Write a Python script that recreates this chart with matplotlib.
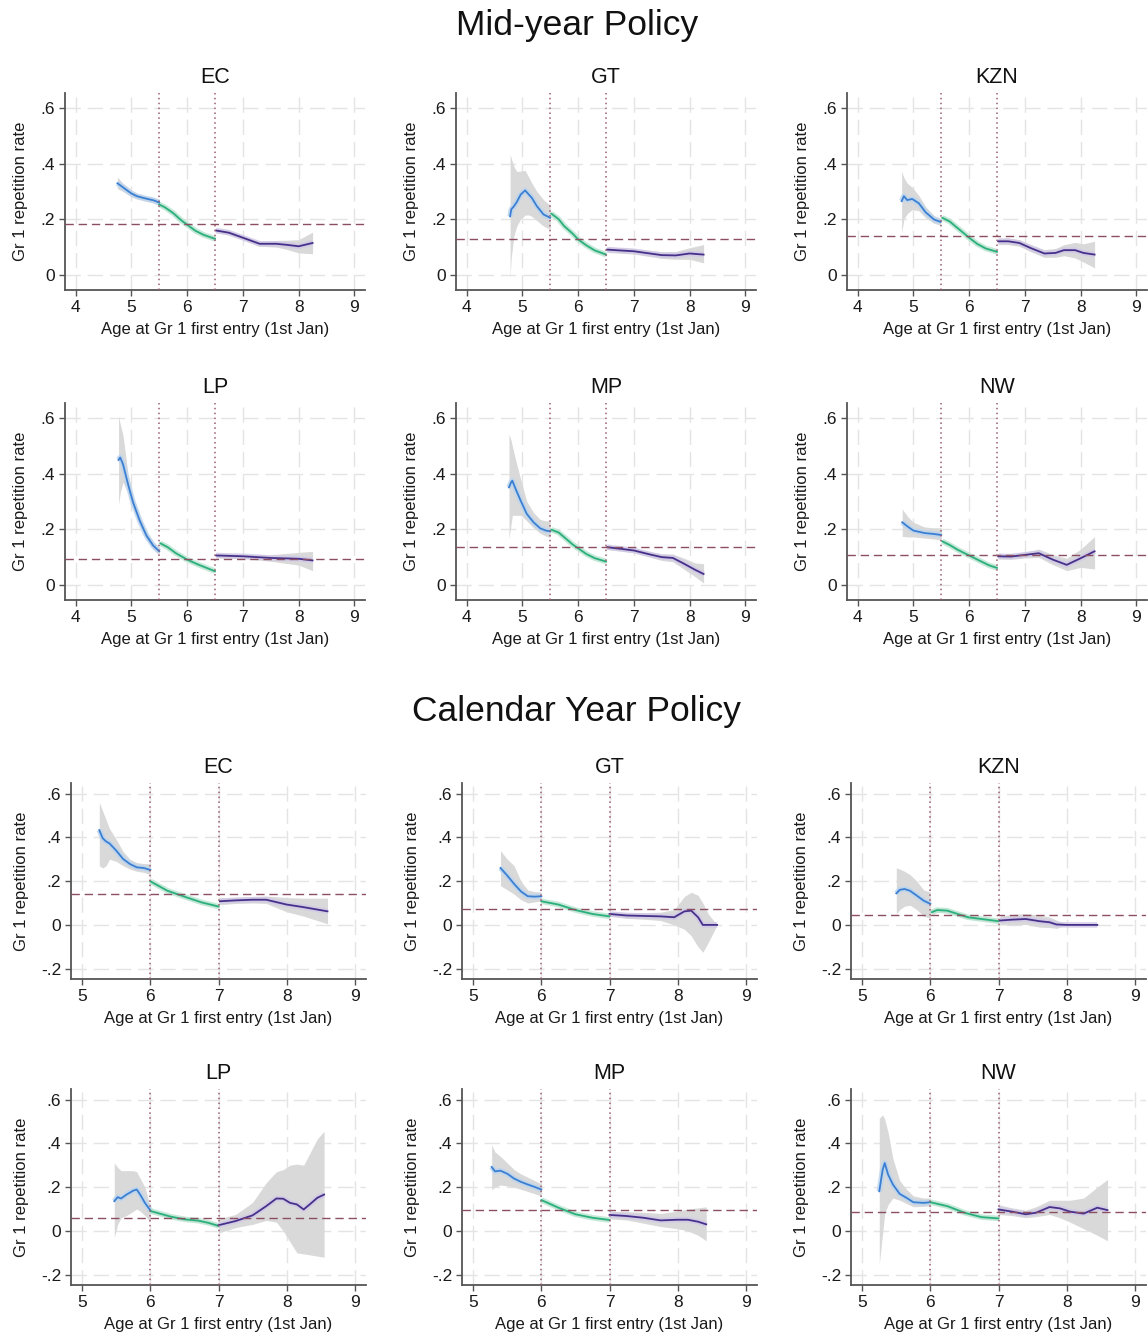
import matplotlib
matplotlib.use("Agg")
import matplotlib.pyplot as plt

plt.rcParams['font.family'] = ['Liberation Sans', 'DejaVu Sans']

PROVINCES = ["EC", "GT", "KZN", "LP", "MP", "NW"]
MY_CUTOFFS = [5.5, 6.5]
CY_CUTOFFS = [6.0, 7.0]
MY_XTICKS = [4, 5, 6, 7, 8, 9]
CY_XTICKS = [5, 6, 7, 8, 9]
MY_YTICKS = [0, 0.2, 0.4, 0.6]
MY_YLABELS = ["0", ".2", ".4", ".6"]
CY_YTICKS = [-0.2, 0, 0.2, 0.4, 0.6]
CY_YLABELS = ["-.2", "0", ".2", ".4", ".6"]
MY_MEAN = [0.183, 0.129, 0.139, 0.093, 0.137, 0.105]
CY_MEAN = [0.140, 0.073, 0.047, 0.057, 0.095, 0.088]

# ---------------- Mid-year policy ----------------
MY_EC_1 = dict(x=[4.75, 4.85, 5.0, 5.1, 5.25, 5.4, 5.5],
               y=[0.330, 0.315, 0.293, 0.283, 0.275, 0.268, 0.260],
               lo=[0.310, 0.300, 0.281, 0.273, 0.265, 0.258, 0.248],
               hi=[0.352, 0.330, 0.305, 0.293, 0.285, 0.278, 0.272])
MY_EC_2 = dict(x=[5.5, 5.6, 5.75, 5.9, 6.0, 6.15, 6.3, 6.5],
               y=[0.253, 0.243, 0.222, 0.195, 0.180, 0.158, 0.143, 0.129],
               lo=[0.246, 0.237, 0.216, 0.190, 0.175, 0.153, 0.137, 0.122],
               hi=[0.260, 0.249, 0.228, 0.200, 0.185, 0.163, 0.149, 0.136])
MY_EC_3 = dict(x=[6.52, 6.75, 7.0, 7.15, 7.3, 7.6, 7.8, 8.0, 8.25],
               y=[0.159, 0.151, 0.133, 0.122, 0.111, 0.111, 0.107, 0.102, 0.114],
               lo=[0.151, 0.143, 0.126, 0.114, 0.102, 0.099, 0.090, 0.078, 0.075],
               hi=[0.167, 0.159, 0.141, 0.130, 0.120, 0.123, 0.124, 0.126, 0.153])

MY_GT_1 = dict(x=[4.78, 4.8, 4.85, 4.9, 4.97, 5.05, 5.12, 5.17, 5.26, 5.38, 5.5],
               y=[0.210, 0.235, 0.247, 0.262, 0.289, 0.304, 0.288, 0.277, 0.247, 0.217, 0.205],
               lo=[-0.012, 0.060, 0.140, 0.175, 0.200, 0.215, 0.215, 0.210, 0.195, 0.175, 0.163],
               hi=[0.434, 0.420, 0.390, 0.372, 0.374, 0.376, 0.350, 0.330, 0.300, 0.270, 0.250])
MY_GT_2 = dict(x=[5.52, 5.65, 5.75, 5.9, 6.0, 6.15, 6.3, 6.5],
               y=[0.220, 0.200, 0.175, 0.148, 0.127, 0.105, 0.087, 0.072],
               lo=[0.213, 0.194, 0.169, 0.143, 0.122, 0.100, 0.082, 0.066],
               hi=[0.227, 0.206, 0.181, 0.153, 0.132, 0.110, 0.092, 0.078])
MY_GT_3 = dict(x=[6.52, 6.75, 7.0, 7.25, 7.5, 7.75, 8.0, 8.25],
               y=[0.090, 0.087, 0.084, 0.077, 0.070, 0.069, 0.076, 0.072],
               lo=[0.080, 0.077, 0.074, 0.066, 0.058, 0.055, 0.055, 0.042],
               hi=[0.100, 0.097, 0.094, 0.088, 0.082, 0.083, 0.097, 0.108])

MY_KZN_1 = dict(x=[4.79, 4.83, 4.89, 4.98, 5.1, 5.22, 5.37, 5.49],
                y=[0.265, 0.283, 0.269, 0.273, 0.257, 0.225, 0.199, 0.190],
                lo=[0.150, 0.200, 0.220, 0.235, 0.230, 0.205, 0.185, 0.178],
                hi=[0.373, 0.350, 0.330, 0.315, 0.285, 0.245, 0.213, 0.203])
MY_KZN_2 = dict(x=[5.52, 5.65, 5.75, 5.9, 6.0, 6.15, 6.3, 6.5],
                y=[0.205, 0.192, 0.175, 0.150, 0.133, 0.110, 0.094, 0.082],
                lo=[0.198, 0.186, 0.169, 0.145, 0.128, 0.105, 0.089, 0.076],
                hi=[0.212, 0.198, 0.181, 0.155, 0.138, 0.115, 0.099, 0.088])
MY_KZN_3 = dict(x=[6.52, 6.7, 6.9, 7.1, 7.35, 7.55, 7.7, 7.9, 8.05, 8.25],
                y=[0.120, 0.120, 0.114, 0.096, 0.076, 0.078, 0.088, 0.088, 0.078, 0.072],
                lo=[0.108, 0.108, 0.102, 0.083, 0.062, 0.062, 0.068, 0.060, 0.045, 0.024],
                hi=[0.132, 0.132, 0.126, 0.109, 0.090, 0.094, 0.108, 0.116, 0.111, 0.120])

MY_LP_1 = dict(x=[4.77, 4.8, 4.85, 4.94, 5.03, 5.15, 5.27, 5.39, 5.5],
               y=[0.450, 0.459, 0.435, 0.363, 0.297, 0.231, 0.177, 0.141, 0.120],
               lo=[0.290, 0.330, 0.370, 0.330, 0.275, 0.213, 0.162, 0.127, 0.106],
               hi=[0.610, 0.580, 0.540, 0.400, 0.320, 0.250, 0.193, 0.156, 0.135])
MY_LP_2 = dict(x=[5.52, 5.65, 5.8, 6.0, 6.2, 6.35, 6.5],
               y=[0.149, 0.135, 0.113, 0.090, 0.072, 0.060, 0.048],
               lo=[0.143, 0.129, 0.108, 0.085, 0.067, 0.055, 0.043],
               hi=[0.155, 0.141, 0.118, 0.095, 0.077, 0.065, 0.053])
MY_LP_3 = dict(x=[6.52, 7.0, 7.5, 8.0, 8.25],
               y=[0.105, 0.102, 0.096, 0.093, 0.087],
               lo=[0.097, 0.094, 0.084, 0.070, 0.050],
               hi=[0.113, 0.110, 0.108, 0.116, 0.120])

MY_MP_1 = dict(x=[4.76, 4.8, 4.82, 4.88, 4.97, 5.08, 5.2, 5.32, 5.42, 5.5],
               y=[0.351, 0.370, 0.375, 0.345, 0.303, 0.255, 0.225, 0.203, 0.195, 0.192],
               lo=[0.165, 0.220, 0.250, 0.250, 0.250, 0.230, 0.205, 0.185, 0.175, 0.170],
               hi=[0.543, 0.520, 0.500, 0.450, 0.380, 0.300, 0.260, 0.235, 0.230, 0.230])
MY_MP_2 = dict(x=[5.52, 5.65, 5.75, 5.9, 6.0, 6.15, 6.3, 6.5],
               y=[0.198, 0.188, 0.171, 0.145, 0.131, 0.110, 0.095, 0.083],
               lo=[0.191, 0.182, 0.165, 0.140, 0.126, 0.105, 0.090, 0.077],
               hi=[0.205, 0.194, 0.177, 0.150, 0.136, 0.115, 0.100, 0.089])
MY_MP_3 = dict(x=[6.52, 7.0, 7.3, 7.5, 7.7, 7.9, 8.1, 8.25],
               y=[0.135, 0.123, 0.108, 0.099, 0.096, 0.075, 0.053, 0.038],
               lo=[0.127, 0.115, 0.098, 0.087, 0.082, 0.055, 0.028, 0.005],
               hi=[0.143, 0.131, 0.118, 0.111, 0.110, 0.095, 0.078, 0.075])

MY_NW_1 = dict(x=[4.8, 4.9, 5.0, 5.2, 5.35, 5.5],
               y=[0.225, 0.209, 0.195, 0.186, 0.183, 0.179],
               lo=[0.174, 0.172, 0.172, 0.168, 0.165, 0.160],
               hi=[0.273, 0.245, 0.225, 0.208, 0.205, 0.205])
MY_NW_2 = dict(x=[5.52, 5.65, 5.8, 6.0, 6.2, 6.35, 6.5],
               y=[0.156, 0.143, 0.125, 0.105, 0.085, 0.070, 0.060],
               lo=[0.150, 0.138, 0.120, 0.100, 0.080, 0.065, 0.054],
               hi=[0.162, 0.148, 0.130, 0.110, 0.090, 0.075, 0.066])
MY_NW_3 = dict(x=[6.52, 6.75, 7.0, 7.25, 7.5, 7.75, 8.0, 8.25],
               y=[0.102, 0.101, 0.107, 0.113, 0.090, 0.071, 0.095, 0.120],
               lo=[0.092, 0.091, 0.096, 0.098, 0.072, 0.050, 0.062, 0.056],
               hi=[0.112, 0.111, 0.118, 0.128, 0.108, 0.095, 0.128, 0.173])

# ---------------- Calendar year policy ----------------
CY_EC_1 = dict(x=[5.25, 5.3, 5.35, 5.4, 5.5, 5.6, 5.7, 5.8, 5.9, 6.0],
               y=[0.433, 0.396, 0.381, 0.372, 0.339, 0.301, 0.278, 0.263, 0.260, 0.251],
               lo=[0.270, 0.260, 0.270, 0.300, 0.290, 0.270, 0.255, 0.245, 0.240, 0.230],
               hi=[0.559, 0.520, 0.480, 0.440, 0.390, 0.335, 0.300, 0.285, 0.280, 0.280])
CY_EC_2 = dict(x=[6.0, 6.25, 6.5, 6.75, 7.0],
               y=[0.199, 0.156, 0.129, 0.103, 0.084],
               lo=[0.191, 0.150, 0.123, 0.097, 0.077],
               hi=[0.207, 0.162, 0.135, 0.109, 0.091])
CY_EC_3 = dict(x=[7.02, 7.25, 7.5, 7.7, 8.0, 8.25, 8.6],
               y=[0.108, 0.112, 0.115, 0.115, 0.093, 0.081, 0.062],
               lo=[0.092, 0.098, 0.100, 0.098, 0.060, 0.040, 0.005],
               hi=[0.125, 0.126, 0.130, 0.132, 0.125, 0.122, 0.122])

CY_GT_1 = dict(x=[5.4, 5.5, 5.6, 5.7, 5.8, 5.9, 6.0],
               y=[0.260, 0.225, 0.187, 0.153, 0.131, 0.129, 0.131],
               lo=[0.179, 0.160, 0.140, 0.115, 0.100, 0.105, 0.110],
               hi=[0.339, 0.300, 0.270, 0.200, 0.160, 0.152, 0.150])
CY_GT_2 = dict(x=[6.0, 6.25, 6.5, 6.75, 7.0],
               y=[0.108, 0.093, 0.068, 0.050, 0.039],
               lo=[0.102, 0.088, 0.063, 0.045, 0.034],
               hi=[0.114, 0.098, 0.073, 0.055, 0.044])
CY_GT_3 = dict(x=[7.0, 7.25, 7.5, 7.75, 7.95, 8.1, 8.2, 8.3, 8.37, 8.45, 8.58],
               y=[0.050, 0.043, 0.041, 0.039, 0.035, 0.062, 0.065, 0.035, 0.0, 0.0, 0.0],
               lo=[0.040, 0.030, 0.026, 0.020, 0.000, -0.020, -0.050, -0.100, -0.125, -0.080, 0.0],
               hi=[0.060, 0.056, 0.056, 0.058, 0.070, 0.130, 0.149, 0.135, 0.100, 0.050, 0.0])

CY_KZN_1 = dict(x=[5.5, 5.55, 5.62, 5.7, 5.8, 5.9, 6.0],
                y=[0.144, 0.160, 0.164, 0.156, 0.134, 0.111, 0.096],
                lo=[0.050, 0.070, 0.085, 0.090, 0.070, 0.040, 0.030],
                hi=[0.260, 0.255, 0.245, 0.230, 0.200, 0.160, 0.150])
CY_KZN_2 = dict(x=[6.02, 6.1, 6.25, 6.4, 6.55, 6.75, 7.0],
                y=[0.058, 0.068, 0.065, 0.050, 0.035, 0.027, 0.017],
                lo=[0.048, 0.058, 0.055, 0.041, 0.027, 0.019, 0.009],
                hi=[0.068, 0.078, 0.075, 0.059, 0.043, 0.035, 0.025])
CY_KZN_3 = dict(x=[7.02, 7.2, 7.4, 7.6, 7.75, 7.85, 8.0, 8.45],
                y=[0.020, 0.024, 0.027, 0.017, 0.012, 0.002, 0.0, 0.0],
                lo=[0.000, 0.000, 0.002, -0.010, -0.012, -0.016, 0.0, 0.0],
                hi=[0.040, 0.048, 0.052, 0.045, 0.036, 0.022, 0.0, 0.0])

CY_LP_1 = dict(x=[5.47, 5.52, 5.57, 5.65, 5.75, 5.8, 5.85, 5.92, 6.0],
               y=[0.136, 0.154, 0.148, 0.166, 0.184, 0.189, 0.166, 0.128, 0.094],
               lo=[-0.030, 0.030, 0.060, 0.070, 0.090, 0.100, 0.090, 0.070, 0.040],
               hi=[0.310, 0.290, 0.275, 0.275, 0.275, 0.270, 0.240, 0.200, 0.110])
CY_LP_2 = dict(x=[6.0, 6.15, 6.3, 6.5, 6.7, 6.85, 7.0],
               y=[0.091, 0.078, 0.065, 0.053, 0.047, 0.037, 0.023],
               lo=[0.083, 0.071, 0.058, 0.046, 0.040, 0.030, 0.016],
               hi=[0.099, 0.085, 0.072, 0.060, 0.054, 0.044, 0.030])
CY_LP_3 = dict(x=[7.0, 7.25, 7.5, 7.7, 7.85, 7.95, 8.05, 8.15, 8.25, 8.35, 8.45, 8.55],
               y=[0.026, 0.045, 0.071, 0.113, 0.148, 0.147, 0.128, 0.121, 0.098, 0.124, 0.151, 0.166],
               lo=[-0.010, 0.015, 0.030, 0.048, 0.040, 0.000, -0.050, -0.100, -0.105, -0.110, -0.115, -0.120],
               hi=[0.055, 0.075, 0.130, 0.220, 0.270, 0.280, 0.300, 0.305, 0.300, 0.360, 0.420, 0.455])

CY_MP_1 = dict(x=[5.27, 5.32, 5.4, 5.5, 5.6, 5.7, 5.8, 5.9, 6.0],
               y=[0.292, 0.272, 0.275, 0.261, 0.239, 0.224, 0.212, 0.201, 0.189],
               lo=[0.189, 0.200, 0.210, 0.205, 0.200, 0.190, 0.180, 0.170, 0.160],
               hi=[0.393, 0.360, 0.340, 0.310, 0.280, 0.260, 0.245, 0.230, 0.215])
CY_MP_2 = dict(x=[6.0, 6.25, 6.5, 6.75, 7.0],
               y=[0.141, 0.106, 0.076, 0.060, 0.050],
               lo=[0.134, 0.100, 0.070, 0.054, 0.044],
               hi=[0.148, 0.112, 0.082, 0.066, 0.056])
CY_MP_3 = dict(x=[7.0, 7.25, 7.5, 7.75, 8.0, 8.15, 8.3, 8.42],
               y=[0.073, 0.068, 0.060, 0.048, 0.051, 0.051, 0.042, 0.030],
               lo=[0.055, 0.050, 0.035, 0.020, 0.010, 0.000, -0.020, -0.045],
               hi=[0.090, 0.088, 0.085, 0.080, 0.090, 0.100, 0.105, 0.110])

CY_NW_1 = dict(x=[5.25, 5.3, 5.33, 5.38, 5.45, 5.55, 5.65, 5.75, 5.9, 6.0],
               y=[0.181, 0.280, 0.310, 0.257, 0.212, 0.169, 0.151, 0.131, 0.128, 0.131],
               lo=[-0.151, -0.010, 0.080, 0.120, 0.150, 0.140, 0.125, 0.110, 0.112, 0.115],
               hi=[0.514, 0.530, 0.510, 0.450, 0.330, 0.230, 0.190, 0.160, 0.150, 0.150])
CY_NW_2 = dict(x=[6.0, 6.25, 6.5, 6.75, 7.0],
               y=[0.131, 0.113, 0.083, 0.063, 0.057],
               lo=[0.124, 0.107, 0.077, 0.057, 0.051],
               hi=[0.138, 0.119, 0.089, 0.069, 0.063])
CY_NW_3 = dict(x=[7.0, 7.2, 7.4, 7.55, 7.75, 7.9, 8.05, 8.25, 8.45, 8.6],
               y=[0.098, 0.088, 0.076, 0.083, 0.109, 0.103, 0.088, 0.079, 0.106, 0.095],
               lo=[0.075, 0.070, 0.060, 0.065, 0.075, 0.060, 0.040, 0.010, -0.020, -0.045],
               hi=[0.120, 0.105, 0.095, 0.110, 0.140, 0.140, 0.140, 0.150, 0.200, 0.235])

MY_PANELS = [(MY_EC_1, MY_EC_2, MY_EC_3), (MY_GT_1, MY_GT_2, MY_GT_3),
             (MY_KZN_1, MY_KZN_2, MY_KZN_3), (MY_LP_1, MY_LP_2, MY_LP_3),
             (MY_MP_1, MY_MP_2, MY_MP_3), (MY_NW_1, MY_NW_2, MY_NW_3)]
CY_PANELS = [(CY_EC_1, CY_EC_2, CY_EC_3), (CY_GT_1, CY_GT_2, CY_GT_3),
             (CY_KZN_1, CY_KZN_2, CY_KZN_3), (CY_LP_1, CY_LP_2, CY_LP_3),
             (CY_MP_1, CY_MP_2, CY_MP_3), (CY_NW_1, CY_NW_2, CY_NW_3)]

# ---------------- styling ----------------
LINE_COLORS = ["#3a7fd2", "#2bb07c", "#47308a"]
HALO_COLORS = ["#bcd4ef", "#b8e4d0", "#d0c8e6"]
BAND_COLOR = "#d9d9d9"
MEAN_COLOR = "#8b4f61"
CUT_COLOR = "#9a5b6e"
GRID_COLOR = "#e4e4e4"
SPINE_COLOR = "#555555"

W, H = 1148, 1336
fig = plt.figure(figsize=(W / 100, H / 100), dpi=100)
fig.patch.set_facecolor("white")


def px_axes(left, top, width, height):
    return fig.add_axes([left / W, 1 - (top + height) / H, width / W, height / H])


def draw_panel(ax, name, segs, mean, cutoffs, xticks, yticks, ylabels, xlim, ylim):
    ax.set_xlim(*xlim)
    ax.set_ylim(*ylim)
    for v in xticks:
        ax.axvline(v, color=GRID_COLOR, lw=1.0, dashes=(11, 5), zorder=0)
    for v in yticks:
        ax.axhline(v, color=GRID_COLOR, lw=1.0, dashes=(11, 5), zorder=0)
    for i, s in enumerate(segs):
        ax.fill_between(s["x"], s["lo"], s["hi"], color=BAND_COLOR, lw=0, zorder=1)
        ax.plot(s["x"], s["y"], color=HALO_COLORS[i], lw=4.0, alpha=0.8,
                solid_capstyle="butt", zorder=2)
        ax.plot(s["x"], s["y"], color=LINE_COLORS[i], lw=1.3, zorder=3)
    ax.axhline(mean, color=MEAN_COLOR, lw=1.0, dashes=(6, 3.5), zorder=4)
    for c in cutoffs:
        ax.axvline(c, color=CUT_COLOR, lw=1.1, linestyle=(0, (1, 2.2)), zorder=4)
    ax.set_xticks(xticks)
    ax.set_xticklabels([str(t) for t in xticks])
    ax.set_yticks(yticks)
    ax.set_yticklabels(ylabels)
    for side in ["top", "right"]:
        ax.spines[side].set_visible(False)
    for side in ["left", "bottom"]:
        ax.spines[side].set_color(SPINE_COLOR)
        ax.spines[side].set_linewidth(1.3)
    ax.tick_params(axis="both", colors=SPINE_COLOR, labelcolor="#1a1a1a",
                   labelsize=12.5, length=4, width=1.0, pad=3)
    ax.set_title(name, fontsize=15.5, pad=7, color="#111111")
    ax.set_xlabel("Age at Gr 1 first entry (1st Jan)", fontsize=12, labelpad=5, color="#1a1a1a")
    ax.set_ylabel("Gr 1 repetition rate", fontsize=12, labelpad=9, color="#1a1a1a")


MY_LEFTS = [65, 456, 847]
MY_TOPS = [93, 403]
CY_LEFTS = [71, 462, 851]
CY_TOPS = [783, 1089]

for k, name in enumerate(PROVINCES):
    r, c = divmod(k, 3)
    ax = px_axes(MY_LEFTS[c], MY_TOPS[r], 300, 197)
    draw_panel(ax, name, MY_PANELS[k], MY_MEAN[k], MY_CUTOFFS, MY_XTICKS,
               MY_YTICKS, MY_YLABELS, (3.81, 9.19), (-0.056, 0.656))

for k, name in enumerate(PROVINCES):
    r, c = divmod(k, 3)
    ax = px_axes(CY_LEFTS[c], CY_TOPS[r], 295, 196)
    draw_panel(ax, name, CY_PANELS[k], CY_MEAN[k], CY_CUTOFFS, CY_XTICKS,
               CY_YTICKS, CY_YLABELS, (4.835, 9.165), (-0.247, 0.648))

fig.text(577 / W, 1 - 25 / H, "Mid-year Policy", ha="center", va="center",
         fontsize=25.5, color="#111111")
fig.text(577 / W, 1 - 712 / H, "Calendar Year Policy", ha="center", va="center",
         fontsize=25.5, color="#111111")

fig.savefig("out.png", dpi=100, facecolor="white")
